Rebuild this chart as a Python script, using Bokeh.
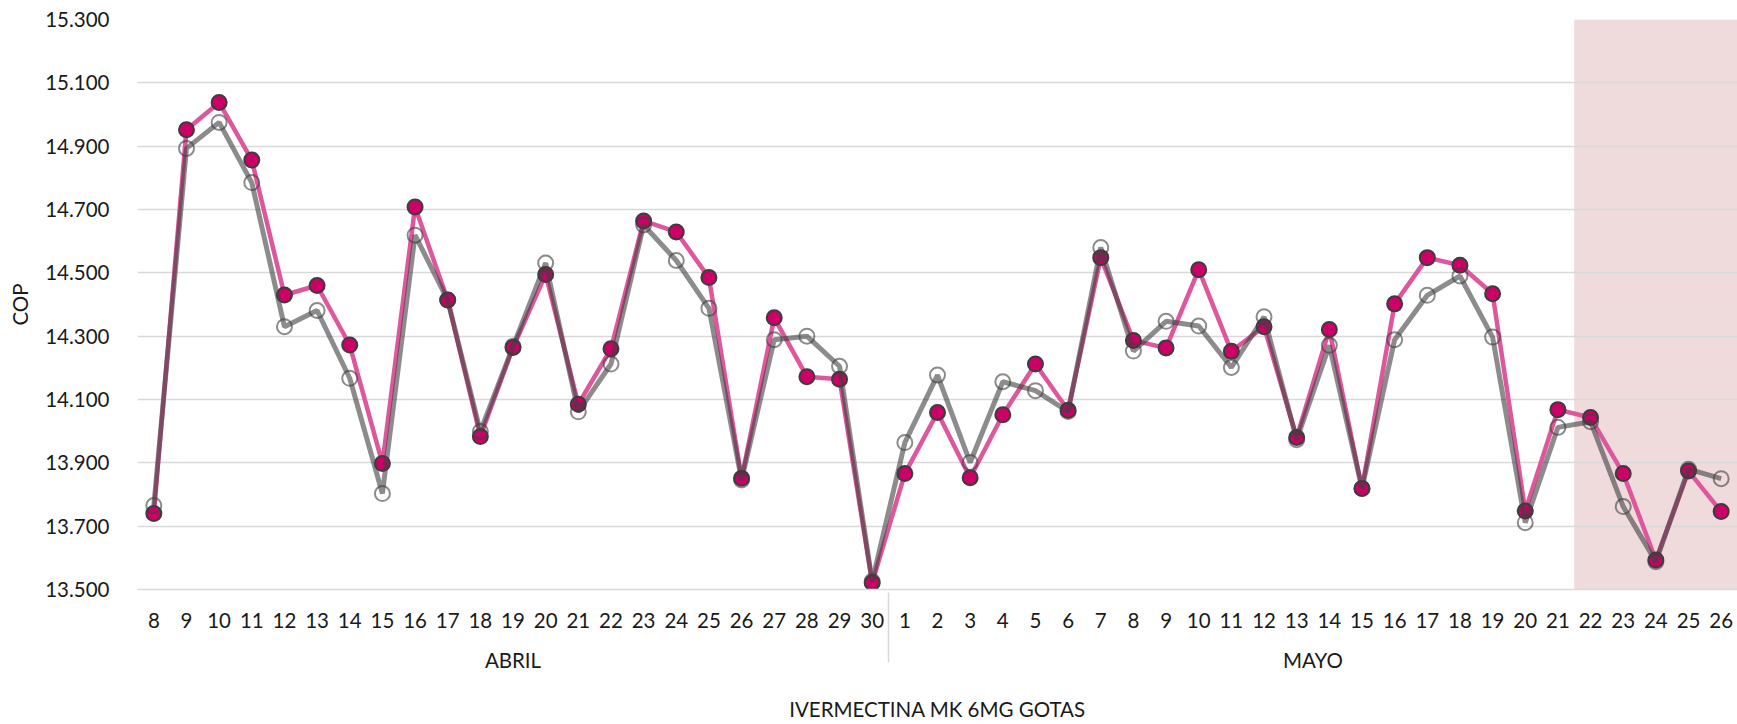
from bokeh.plotting import figure
from bokeh.models import FactorRange, Range1d, FixedTicker, CustomJSTickFormatter, ColumnDataSource
from bokeh.embed import file_html
from bokeh.resources import INLINE

# ---------------- data ----------------
product = "IVERMECTINA MK 6MG GOTAS"
months = ["ABRIL", "MAYO"]
abril_days = ["8", "9", "10", "11", "12", "13", "14", "15", "16", "17", "18", "19", "20",
              "21", "22", "23", "24", "25", "26", "27", "28", "29", "30"]
mayo_days = ["1", "2", "3", "4", "5", "6", "7", "8", "9", "10", "11", "12", "13",
             "14", "15", "16", "17", "18", "19", "20", "21", "22", "23", "24", "25", "26"]

# magenta series (filled markers), COP
serie_magenta_abril = [13740, 14952, 15038, 14856, 14430, 14460, 14272, 13898, 14708, 14414,
                       13983, 14264, 14495, 14085, 14260, 14664, 14629, 14485, 13851, 14358,
                       14172, 14164, 13521]
serie_magenta_mayo = [13866, 14059, 13853, 14052, 14212, 14066, 14548, 14286, 14263, 14510,
                      14252, 14330, 13980, 14321, 13819, 14402, 14548, 14524, 14434, 13748,
                      14068, 14043, 13866, 13593, 13874, 13746]
# grey series (hollow markers), COP
serie_gris_abril = [13765, 14893, 14975, 14785, 14330, 14381, 14167, 13803, 14619, 14414,
                    13999, 14268, 14531, 14061, 14212, 14651, 14539, 14388, 13846, 14289,
                    14300, 14205, 13526]
serie_gris_mayo = [13964, 14177, 13901, 14156, 14128, 14062, 14580, 14253, 14347, 14332,
                   14201, 14361, 13973, 14271, 13819, 14289, 14429, 14490, 14297, 13711,
                   14012, 14030, 13762, 13588, 13880, 13850]

y_ticks = [13500, 13700, 13900, 14100, 14300, 14500, 14700, 14900, 15100, 15300]
y_label = "COP"

highlight_month = "MAYO"
highlight_days = ["22", "23", "24", "25", "26"]

# ---------------- build ----------------
factors = [(months[0], d) for d in abril_days] + [(months[1], d) for d in mayo_days]
magenta = serie_magenta_abril + serie_magenta_mayo
gris = serie_gris_abril + serie_gris_mayo

src = ColumnDataSource(data=dict(x=factors, magenta=magenta, gris=gris))

FONT = "Lato"
FS = "20.5px"
TXT = "#1a1a1a"
GRID = "#d9d9d9"

p = figure(
    x_range=FactorRange(*factors, group_padding=0, subgroup_padding=0, factor_padding=0, range_padding=0),
    y_range=Range1d(y_ticks[0], y_ticks[-1]),
    width=1737, height=724,
    output_backend="svg", toolbar_location=None,
    min_border_left=137, min_border_right=0, min_border_top=19, min_border_bottom=135,
)
p.title.visible = False
p.outline_line_color = None
p.background_fill_color = "white"
p.border_fill_color = "white"

# highlight region
hl_center = (highlight_month, highlight_days[len(highlight_days) // 2])
p.rect(x=[hl_center], y=[(y_ticks[0] + y_ticks[-1]) / 2], width=len(highlight_days),
       height=y_ticks[-1] - y_ticks[0], fill_color="#efdbdb", line_color=None, level="image")

# series
p.line("x", "magenta", source=src, line_color="#de579c", line_width=4.5)
p.scatter("x", "magenta", source=src, size=15, fill_color="#cc0066", line_color="#3d3d3d", line_width=2)
p.line("x", "gris", source=src, line_color="#404040", line_alpha=0.6, line_width=5)
p.scatter("x", "gris", source=src, size=15, fill_color=None, line_color="#404040", line_alpha=0.6, line_width=2)

# grid
p.xgrid.visible = False
p.ygrid.grid_line_color = GRID
p.ygrid.grid_line_width = 1.5
p.ygrid.ticker = FixedTicker(ticks=y_ticks)

# y axis
ya = p.yaxis[0]
ya.ticker = FixedTicker(ticks=y_ticks)
ya.formatter = CustomJSTickFormatter(code="return Math.round(tick).toString().replace(/\\B(?=(\\d{3})+(?!\\d))/g, '.');")
ya.axis_line_color = None
ya.major_tick_line_color = None
ya.minor_tick_line_color = None
ya.major_label_standoff = 22
ya.major_label_text_font = FONT
ya.major_label_text_font_size = FS
ya.major_label_text_color = TXT
ya.axis_label = y_label
ya.axis_label_text_font = FONT
ya.axis_label_text_font_size = FS
ya.axis_label_text_font_style = "normal"
ya.axis_label_text_color = TXT
ya.axis_label_standoff = 10

# x axis
xa = p.xaxis[0]
xa.axis_line_color = GRID
xa.axis_line_width = 1.5
xa.major_tick_line_color = None
xa.minor_tick_line_color = None
xa.major_label_standoff = 17
xa.major_label_text_font = FONT
xa.major_label_text_font_size = FS
xa.major_label_text_color = TXT
xa.group_text_font = FONT
xa.group_text_font_size = FS
xa.group_text_font_style = "normal"
xa.group_text_color = TXT
xa.separator_line_color = GRID
xa.separator_line_width = 1.5
xa.axis_label = product
xa.axis_label_standoff = 22
xa.axis_label_text_font = FONT
xa.axis_label_text_font_size = FS
xa.axis_label_text_font_style = "normal"
xa.axis_label_text_color = TXT

open("out.html", "w").write(file_html(p, INLINE))
